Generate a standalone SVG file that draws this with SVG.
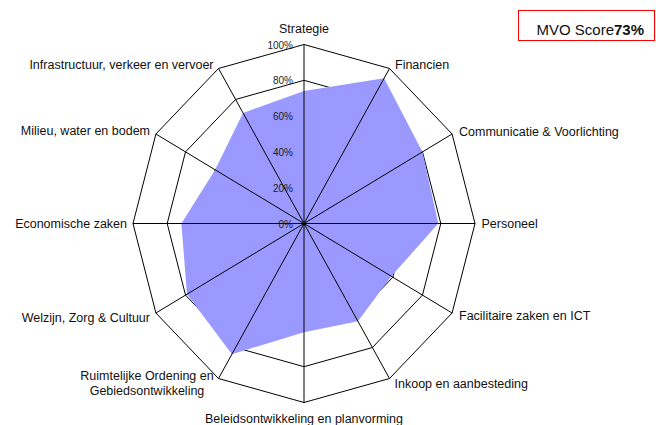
<svg xmlns="http://www.w3.org/2000/svg" width="656" height="425" viewBox="0 0 656 425">
<style>
.ring{fill:none;stroke:#000;stroke-width:1}
.spoke{stroke:#000;stroke-width:1}
.lbl{font-family:"Liberation Sans",Arial,sans-serif;font-size:12.5px;fill:#111}
.pct{font-family:"Liberation Sans",Arial,sans-serif;font-size:10px;fill:#222;text-anchor:end}
.data{fill:#9999FF;stroke:none}
</style>
<rect width="656" height="425" fill="#fff"/>
<g id="grid">
<polygon class="ring" points="304,44.5 389.5,68.48 452.09,134 475,223.5 452.09,313 389.5,378.52 304,402.5 218.5,378.52 155.91,313 133,223.5 155.91,134 218.5,68.48"/>
<polygon class="ring" points="304,80.3 372.4,99.48 422.47,151.9 440.8,223.5 422.47,295.1 372.4,347.52 304,366.7 235.6,347.52 185.53,295.1 167.2,223.5 185.53,151.9 235.6,99.48"/>
<polygon class="ring" points="304,116.1 355.3,130.49 392.85,169.8 406.6,223.5 392.85,277.2 355.3,316.51 304,330.9 252.7,316.51 215.15,277.2 201.4,223.5 215.15,169.8 252.7,130.49"/>
<polygon class="ring" points="304,151.9 338.2,161.49 363.24,187.7 372.4,223.5 363.24,259.3 338.2,285.51 304,295.1 269.8,285.51 244.76,259.3 235.6,223.5 244.76,187.7 269.8,161.49"/>
<polygon class="ring" points="304,187.7 321.1,192.5 333.62,205.6 338.2,223.5 333.62,241.4 321.1,254.5 304,259.3 286.9,254.5 274.38,241.4 269.8,223.5 274.38,205.6 286.9,192.5"/>
</g>
<g id="series">
<polygon class="data" points="304,91.04 384.11,78.25 422.47,151.9 438.24,223.5 391.37,276.3 357.87,321.16 304,332.15 231.92,354.18 187,294.2 181.4,223.5 215.15,169.8 243.04,112.97"/>
</g>
<g id="connectors">
<line class="spoke" x1="304" y1="223.5" x2="304" y2="44.5"/>
<line class="spoke" x1="304" y1="223.5" x2="389.5" y2="68.48"/>
<line class="spoke" x1="304" y1="223.5" x2="452.09" y2="134"/>
<line class="spoke" x1="304" y1="223.5" x2="475" y2="223.5"/>
<line class="spoke" x1="304" y1="223.5" x2="452.09" y2="313"/>
<line class="spoke" x1="304" y1="223.5" x2="389.5" y2="378.52"/>
<line class="spoke" x1="304" y1="223.5" x2="304" y2="402.5"/>
<line class="spoke" x1="304" y1="223.5" x2="218.5" y2="378.52"/>
<line class="spoke" x1="304" y1="223.5" x2="155.91" y2="313"/>
<line class="spoke" x1="304" y1="223.5" x2="133" y2="223.5"/>
<line class="spoke" x1="304" y1="223.5" x2="155.91" y2="134"/>
<line class="spoke" x1="304" y1="223.5" x2="218.5" y2="68.48"/>
</g>
<g id="axis-labels">
<text class="pct" x="293" y="48.5">100%</text>
<text class="pct" x="293" y="84.3">80%</text>
<text class="pct" x="293" y="120.1">60%</text>
<text class="pct" x="293" y="155.9">40%</text>
<text class="pct" x="293" y="191.7">20%</text>
<text class="pct" x="293" y="227.5">0%</text>
</g>
<g id="node-strategie"><text class="lbl" x="304" y="33" text-anchor="middle">Strategie</text></g>
<g id="node-financien"><text class="lbl" x="395" y="68.5">Financien</text></g>
<g id="node-communicatie"><text class="lbl" x="459" y="136">Communicatie &amp; Voorlichting</text></g>
<g id="node-personeel"><text class="lbl" x="481.5" y="228">Personeel</text></g>
<g id="node-facilitaire"><text class="lbl" x="459" y="320">Facilitaire zaken en ICT</text></g>
<g id="node-inkoop"><text class="lbl" x="394.5" y="388">Inkoop en aanbesteding</text></g>
<g id="node-beleid"><text class="lbl" x="304" y="423" text-anchor="middle">Beleidsontwikkeling en planvorming</text></g>
<g id="node-ruimtelijke"><text class="lbl" x="147" y="380" text-anchor="middle">Ruimtelijke Ordening en</text><text class="lbl" x="147" y="395" text-anchor="middle">Gebiedsontwikkeling</text></g>
<g id="node-welzijn"><text class="lbl" x="150" y="321.5" text-anchor="end">Welzijn, Zorg &amp; Cultuur</text></g>
<g id="node-economische"><text class="lbl" x="127" y="227.5" text-anchor="end">Economische zaken</text></g>
<g id="node-milieu"><text class="lbl" x="150" y="135" text-anchor="end">Milieu, water en bodem</text></g>
<g id="node-infrastructuur"><text class="lbl" x="213.5" y="68.5" text-anchor="end">Infrastructuur, verkeer en vervoer</text></g>
<g id="score-box">
<rect x="518.5" y="10.5" width="136" height="30" fill="#fff" stroke="#ff0000" stroke-width="1"/>
<text x="536.5" y="35" font-family="'Liberation Sans',Arial,sans-serif" font-size="15" fill="#111">MVO Score<tspan font-weight="bold">73%</tspan></text>
</g>
</svg>
